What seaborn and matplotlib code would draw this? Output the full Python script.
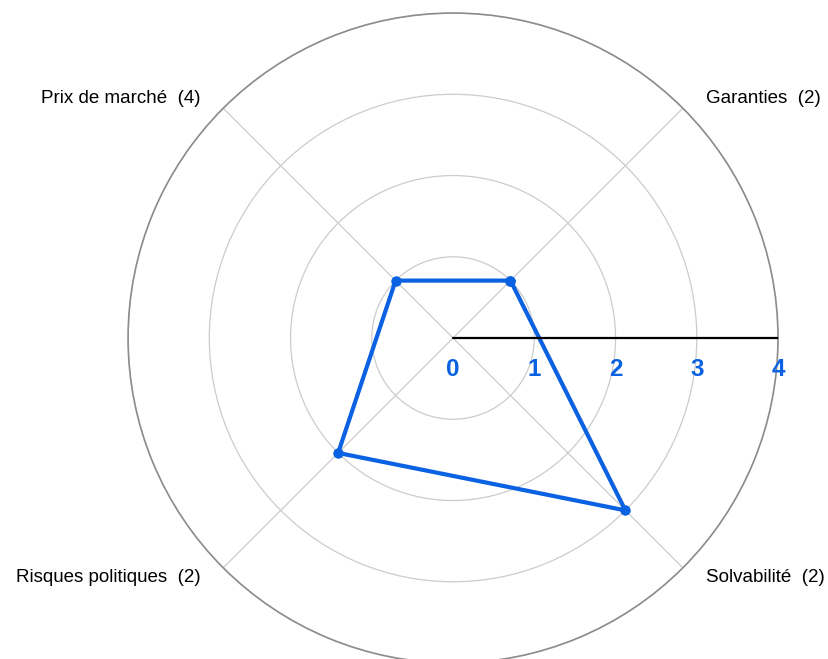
import numpy as np
import pandas as pd
import seaborn as sns
import matplotlib.pyplot as plt
from matplotlib.transforms import offset_copy

# données
categories = ['Garanties', 'Prix de marché', 'Risques politiques', 'Solvabilité']
nb_criteres = [2, 4, 2, 2]
angles_deg = [45, 135, 225, 315]
notes = [1, 1, 2, 3]
ticks = [0, 1, 2, 3, 4]

sns.set_style('white')
plt.rcParams['font.family'] = ['Liberation Sans', 'DejaVu Sans']

bleu = '#0a62e2'

fig = plt.figure(figsize=(8.29, 6.59), dpi=100)
ax = fig.add_axes([0.1544, -0.0061, 0.7842, 0.9863], projection='polar')

theta = np.deg2rad(angles_deg)
df = pd.DataFrame({'theta': list(theta) + [theta[0]],
                   'note': notes + [notes[0]]})
sns.lineplot(data=df, x='theta', y='note', sort=False, estimator=None, ax=ax,
             color=bleu, linewidth=3, marker='o', markersize=7.5,
             markeredgewidth=0)

ax.set_ylim(0, ticks[-1])
ax.set_yticks(ticks[1:])
ax.set_yticklabels([])
ax.set_xticks(theta)
ax.set_xticklabels([])
ax.grid(True, color='#cccccc', linewidth=0.9)
ax.spines['polar'].set_color('#8c8c8c')
ax.spines['polar'].set_linewidth(1.2)
ax.set_xlabel('')
ax.set_ylabel('')

# axe des valeurs (horizontal, vers la droite)
ax.plot([0, 0], [0, ticks[-1]], color='black', linewidth=1.6, zorder=3)
trans = offset_copy(ax.transData, fig=fig, x=0, y=-31, units='dots')
for t in ticks:
    ax.text(0, t, str(t), transform=trans, ha='center', va='center',
            fontsize=17.5, fontweight='bold', color=bleu, clip_on=False)

# étiquettes des catégories
for a, cat, n in zip(angles_deg, categories, nb_criteres):
    right = np.cos(np.deg2rad(a)) > 0
    up = np.sin(np.deg2rad(a)) > 0
    ang = a - 1.5 if (right == up) else a + 1.5
    ax.text(np.deg2rad(ang), 4.29, f'{cat}  ({n})',
            ha='left' if right else 'right', va='center',
            fontsize=13.5, color='black', clip_on=False)

plt.savefig('out.png', dpi=100)
